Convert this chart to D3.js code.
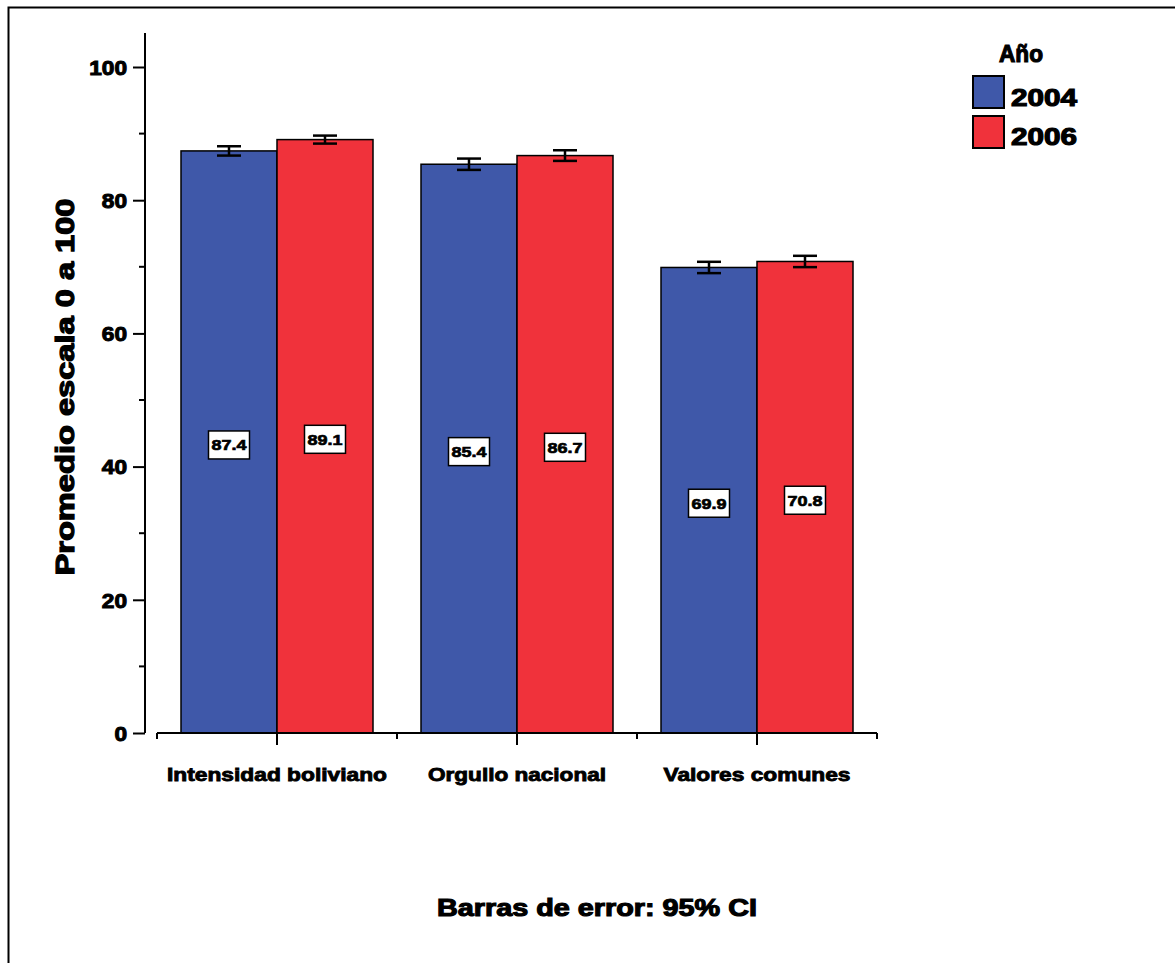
<!DOCTYPE html>
<html><head><meta charset="utf-8">
<script src="https://cdn.jsdelivr.net/npm/d3@7"></script>
<style>body{margin:0;background:#fff}svg{display:block}text{font-family:"Liberation Sans",Arial,sans-serif;font-weight:bold;fill:#000;stroke:#000;paint-order:stroke}</style>
</head><body>
<script>
const categories = ["Intensidad boliviano", "Orgullo nacional", "Valores comunes"];
const years = ["2004", "2006"];
const values2004 = [87.4, 85.4, 69.9];
const values2006 = [89.1, 86.7, 70.8];
const ci2004 = [0.7, 0.85, 0.85];
const ci2006 = [0.6, 0.8, 0.85];
const yTicks = [0, 20, 40, 60, 80, 100];
const colors = ["#3F58A9", "#F0323B"];
const catWidths = [220, 178, 187];

const W = 1175, H = 963;
const svg = d3.select("body").append("svg").attr("width", W).attr("height", H);

// frame
svg.append("path").attr("d", "M8.5,963 V7.5 H1175").attr("fill", "none").attr("stroke", "#000").attr("stroke-width", 2);

const y = d3.scaleLinear().domain([0, 100]).range([733, 67]);
const x = d3.scaleBand().domain(categories).range([157, 877]).paddingInner(0).paddingOuter(0);
const xs = d3.scaleBand().domain(years).range([24, 216]);

// y axis
const yAxis = d3.axisLeft(y).tickValues(yTicks).tickSize(12).tickPadding(6).tickFormat(d3.format("d"));
const gy = svg.append("g").attr("transform", "translate(145,0)").call(yAxis);
gy.select(".domain").attr("d", `M0,733V33`).attr("stroke-width", 2);
gy.selectAll(".tick line").attr("stroke-width", 2);
gy.selectAll(".tick text").attr("font-size", 20).attr("font-family", "Liberation Sans").attr("font-weight", "bold")
  .attr("fill", "#000").attr("stroke", "#000").attr("stroke-width", 1).attr("dy", "0.36em")
  .attr("textLength", d => String(d).length * 12.6).attr("lengthAdjust", "spacingAndGlyphs");
const minor = d3.range(10, 100, 20);
gy.selectAll(".minor").data(minor).enter().append("line")
  .attr("x1", -6).attr("x2", 0).attr("y1", d => y(d)).attr("y2", d => y(d))
  .attr("stroke", "#000").attr("stroke-width", 2);

// y title
svg.append("text").attr("transform", "translate(74,387) rotate(-90)").attr("text-anchor", "middle")
  .attr("font-size", 25).attr("stroke-width", 1.2).attr("textLength", 377).attr("lengthAdjust", "spacingAndGlyphs")
  .text("Promedio escala 0 a 100");

// bars
const data = [];
categories.forEach((c, i) => {
  data.push({c, yr: "2004", v: values2004[i], ci: ci2004[i], col: colors[0]});
  data.push({c, yr: "2006", v: values2006[i], ci: ci2006[i], col: colors[1]});
});
svg.append("g").selectAll("rect").data(data).enter().append("rect")
  .attr("x", d => x(d.c) + xs(d.yr)).attr("width", xs.bandwidth())
  .attr("y", d => y(d.v)).attr("height", d => y(0) - y(d.v))
  .attr("fill", d => d.col).attr("stroke", "#000").attr("stroke-width", 1.5);

// x axis
const gx = svg.append("g");
gx.append("line").attr("x1", 157).attr("x2", 877).attr("y1", 733).attr("y2", 733).attr("stroke", "#000").attr("stroke-width", 2);
const bounds = [...categories.map(c => x(c)), x.range()[1]];
gx.selectAll(".bt").data(bounds).enter().append("line")
  .attr("x1", d => d).attr("x2", d => d).attr("y1", 733).attr("y2", 739).attr("stroke", "#000").attr("stroke-width", 2);
gx.selectAll(".ct").data(categories).enter().append("line")
  .attr("x1", d => x(d) + x.bandwidth() / 2).attr("x2", d => x(d) + x.bandwidth() / 2)
  .attr("y1", 733).attr("y2", 745).attr("stroke", "#000").attr("stroke-width", 2);
gx.selectAll("text").data(categories).enter().append("text")
  .attr("x", d => x(d) + x.bandwidth() / 2).attr("y", 781).attr("text-anchor", "middle")
  .attr("font-size", 19).attr("stroke-width", 0.9).attr("textLength", (d, i) => catWidths[i]).attr("lengthAdjust", "spacingAndGlyphs")
  .text(d => d);

// error bars
const eb = svg.append("g").attr("stroke", "#000").attr("stroke-width", 2.5);
data.forEach(d => {
  const cx = x(d.c) + xs(d.yr) + xs.bandwidth() / 2;
  eb.append("line").attr("x1", cx).attr("x2", cx).attr("y1", y(d.v + d.ci)).attr("y2", y(d.v - d.ci));
  eb.append("line").attr("x1", cx - 12).attr("x2", cx + 12).attr("y1", y(d.v + d.ci)).attr("y2", y(d.v + d.ci));
  eb.append("line").attr("x1", cx - 12).attr("x2", cx + 12).attr("y1", y(d.v - d.ci)).attr("y2", y(d.v - d.ci));
});

// value labels
const lab = svg.append("g");
data.forEach(d => {
  const cx = x(d.c) + xs(d.yr) + xs.bandwidth() / 2;
  const cy = y(d.v / 2) + 3;
  lab.append("rect").attr("x", cx - 20.5).attr("y", cy - 14).attr("width", 41).attr("height", 28)
    .attr("fill", "#fff").attr("stroke", "#000").attr("stroke-width", 1.5);
  lab.append("text").attr("x", cx).attr("y", cy + 5.5).attr("text-anchor", "middle")
    .attr("font-size", 15).attr("stroke-width", 0.7).attr("textLength", 35).attr("lengthAdjust", "spacingAndGlyphs")
    .text(d3.format(".1f")(d.v));
});

// legend
const lg = svg.append("g");
lg.append("text").attr("x", 999).attr("y", 62).attr("font-size", 23).attr("stroke-width", 1.1).attr("textLength", 44)
  .attr("lengthAdjust", "spacingAndGlyphs").text("Año");
years.forEach((yr, i) => {
  lg.append("rect").attr("x", 973).attr("y", 76 + i * 40).attr("width", 31).attr("height", 32)
    .attr("fill", colors[i]).attr("stroke", "#000").attr("stroke-width", 2);
  lg.append("text").attr("x", 1011).attr("y", 106 + i * 39).attr("font-size", 23).attr("stroke-width", 1.1).attr("textLength", 66)
    .attr("lengthAdjust", "spacingAndGlyphs").text(yr);
});

// footnote
svg.append("text").attr("x", 597).attr("y", 916).attr("text-anchor", "middle").attr("font-size", 23.5).attr("stroke-width", 1.1)
  .attr("textLength", 320).attr("lengthAdjust", "spacingAndGlyphs").text("Barras de error: 95% CI");
</script>
</body></html>
